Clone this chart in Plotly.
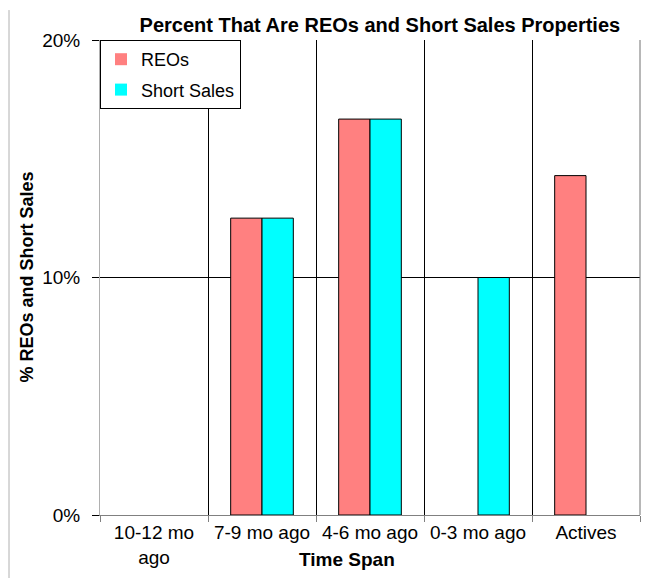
import plotly.graph_objects as go

categories = ["10-12 mo<br>ago", "7-9 mo ago", "4-6 mo ago", "0-3 mo ago", "Actives"]
reos = [0.0, 0.125, 0.1667, 0.0, 0.1429]
short_sales = [0.0, 0.125, 0.1667, 0.10, 0.0]
y_ticks = [0.0, 0.1, 0.2]
y_tick_labels = ["0%", "10%", "20%"]

font = "Liberation Sans, Arial, sans-serif"

def outline(vals):
    return [0 if v == 0 else 1 for v in vals]

fig = go.Figure()
fig.add_trace(go.Bar(x=categories, y=reos, name="REOs", legendgroup="a",
                     marker=dict(color="#FF8080", line=dict(color="black", width=outline(reos)))))
fig.add_trace(go.Bar(x=categories, y=short_sales, name="Short Sales", legendgroup="b",
                     marker=dict(color="#00FFFF", line=dict(color="black", width=outline(short_sales)))))

# page body has an 8px margin; margins compensate so the plot sits where the reference has it
fig.update_layout(
    width=649, height=578,
    margin=dict(l=92, r=17, t=32, b=71, autoexpand=False),
    paper_bgcolor="white", plot_bgcolor="white",
    barmode="group", bargap=0.42, bargroupgap=0,
    font=dict(family=font, size=19, color="black"),
    title=dict(text="<b>Percent That Are REOs and Short Sales Properties</b>",
               x=0.573, xanchor="center", y=0.9706, yanchor="middle",
               font=dict(size=20, family=font, color="black")),
    legend=dict(x=0, y=1, xanchor="left", yanchor="top",
                bordercolor="black", borderwidth=1, bgcolor="white",
                font=dict(size=18, family=font), itemwidth=30,
                tracegroupgap=4),
    showlegend=True,
)

fig.update_xaxes(
    type="category", tickson="boundaries", showgrid=True, gridcolor="black", gridwidth=1,
    ticks="outside", ticklen=6, tickcolor="gray",
    showline=True, linecolor="gray", linewidth=1, automargin=False,
    tickfont=dict(size=19, family=font),
)
fig.update_yaxes(
    range=[0, 0.2], tickvals=y_ticks, ticktext=y_tick_labels,
    showgrid=True, gridcolor="black", gridwidth=1, zeroline=False,
    ticks="outside", ticklen=7, tickcolor="black",
    showline=True, linecolor="#b0b0b0", linewidth=1, automargin=False,
    ticklabelstandoff=8,
    tickfont=dict(size=19, family=font),
)

fig.add_annotation(text="<b>Time Span</b>", xref="paper", yref="paper", x=0.457, y=-0.0947,
                   xanchor="center", yanchor="middle", showarrow=False,
                   font=dict(size=19, family=font, color="black"))
fig.add_annotation(text="<b>% REOs and Short Sales</b>", xref="paper", yref="paper", x=-0.137, y=0.5,
                   xanchor="center", yanchor="middle", textangle=-90, showarrow=False,
                   font=dict(size=18, family=font, color="black"))

fig.add_shape(type="line", xref="paper", yref="paper", x0=1, x1=1, y0=0, y1=1,
              line=dict(color="#707070", width=1))
fig.add_shape(type="line", xref="paper", yref="paper", x0=-0.1685, x1=-0.1685, y0=-0.149, y1=1.063,
              line=dict(color="#b0b0b0", width=1))

fig.write_html("out.html")
